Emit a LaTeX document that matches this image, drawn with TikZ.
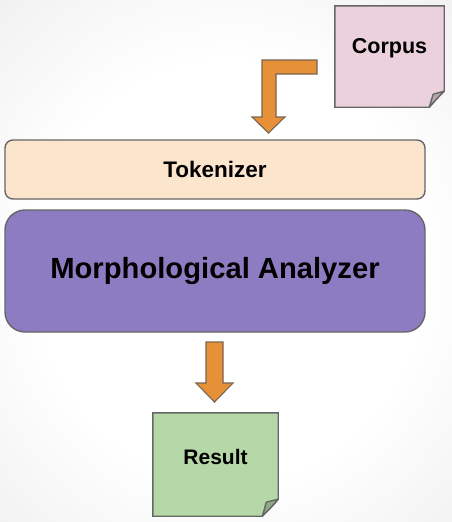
\documentclass[tikz,border=0pt]{standalone}
\usepackage{fontspec}
\setmainfont{Liberation Sans}
\usetikzlibrary{backgrounds}
\definecolor{corpusfill}{HTML}{EAD1DC}
\definecolor{corpusfold}{HTML}{B9A6B0}
\definecolor{tokfill}{HTML}{FCE5CD}
\definecolor{morphfill}{HTML}{8E7CC3}
\definecolor{resfill}{HTML}{B6D7A8}
\definecolor{resfold}{HTML}{8FAA85}
\definecolor{arrowfill}{HTML}{E69138}
\definecolor{edgegray}{HTML}{666666}
\definecolor{arrowedge}{HTML}{7A6450}
\pgfdeclareradialshading{bgshade}{\pgfpoint{0bp}{0bp}}{color(0bp)=(white); color(18bp)=(white); color(50bp)=(black!13); color(72bp)=(black!16)}
\tikzset{
  lbl/.style={font=\bfseries, text=black, inner sep=0pt},
  boxline/.style={draw=edgegray, line width=1.4pt},
  blockarrow/.style={fill=arrowfill, draw=arrowedge, line width=1.1pt, line join=miter},
}
\begin{document}
\begin{tikzpicture}[x=1pt,y=-1pt]
\useasboundingbox (0,0) rectangle (451,522);
\begin{pgfonlayer}{background}
\shade[shading=bgshade] (-40,-20) rectangle (500,560);
\end{pgfonlayer}
% nodes
\node[inner sep=0pt, minimum width=109pt, minimum height=101pt] (corpus) at (389.5,56.5) {};
\node[lbl, font=\bfseries\fontsize{21.5}{24}\selectfont] (corpustext) at (389.5,48.5) {Corpus};
\node[rounded corners=8pt, boxline, fill=tokfill, minimum width=420pt, minimum height=59pt, lbl, font=\bfseries\fontsize{22.5}{24}\selectfont] (tok) at (215,169.5) {Tokenizer};
\node[rounded corners=20pt, boxline, fill=morphfill, minimum width=420pt, minimum height=122pt, lbl, font=\bfseries\fontsize{29.2}{32}\selectfont] (morph) at (215,271) {Morphological Analyzer};
\node[inner sep=0pt, minimum width=125pt, minimum height=103pt] (res) at (215.5,464.5) {};
\node[lbl, font=\bfseries\fontsize{21}{24}\selectfont] (restext) at (215.5,457) {Result};
% note shapes
\begin{pgfonlayer}{background}
\draw[boxline, fill=corpusfill, line join=miter]
  (corpus.north west) -- (corpus.north east) -- ([yshift=16pt]corpus.south east)
  .. controls ([xshift=-6pt,yshift=10pt]corpus.south east) .. ([xshift=-15pt]corpus.south east)
  -- (corpus.south west) -- cycle;
\draw[boxline, fill=corpusfold, line join=round]
  ([yshift=16pt]corpus.south east) -- ([xshift=-11pt,yshift=13pt]corpus.south east)
  .. controls ([xshift=-13pt,yshift=6pt]corpus.south east) .. ([xshift=-15pt]corpus.south east)
  .. controls ([xshift=-6pt,yshift=10pt]corpus.south east) .. ([yshift=16pt]corpus.south east);
\draw[boxline, fill=resfill, line join=miter]
  (res.north west) -- (res.north east) -- ([yshift=17pt]res.south east)
  .. controls ([xshift=-6pt,yshift=10pt]res.south east) .. ([xshift=-16pt]res.south east)
  -- (res.south west) -- cycle;
\draw[boxline, fill=resfold, line join=round]
  ([yshift=17pt]res.south east) -- ([xshift=-12pt,yshift=14pt]res.south east)
  .. controls ([xshift=-14pt,yshift=6pt]res.south east) .. ([xshift=-16pt]res.south east)
  .. controls ([xshift=-6pt,yshift=10pt]res.south east) .. ([yshift=17pt]res.south east);
\end{pgfonlayer}
% block arrows
\draw[blockarrow] (262,60) -- (317,60) -- (317,74) -- (276,74) -- (276,117) -- (285,117)
  -- (268.5,133) -- (252,117) -- (262,117) -- cycle;
\draw[blockarrow] (206,342) -- (223,342) -- (223,383) -- (233,383) -- (214.5,402)
  -- (196,383) -- (206,383) -- cycle;
\end{tikzpicture}
\end{document}
